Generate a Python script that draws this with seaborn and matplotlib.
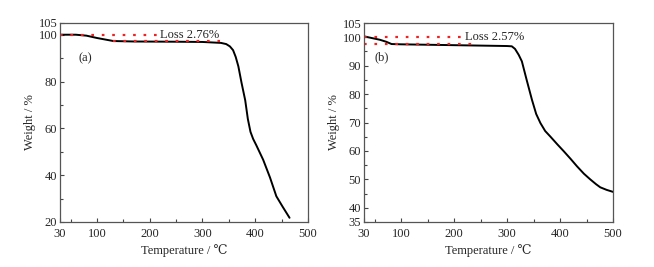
import numpy as np
import pandas as pd
import seaborn as sns
import matplotlib.pyplot as plt

# TGA curve (a)
temp_a = [30, 60, 80, 100, 131, 170, 250, 300, 335, 345, 352, 358, 363, 368, 374, 381, 386, 391, 396, 402, 415, 428, 440, 452, 465]
weight_a = [100, 100, 99.6, 98.6, 97.3, 97.1, 97.0, 96.9, 96.5, 96.0, 95.0, 93.4, 90.5, 86.5, 79.5, 72, 64, 58.5, 55.5, 52.8, 46.6, 39, 31, 26.5, 21.8]

# TGA curve (b)
temp_b = [30, 45, 60, 72, 82, 100, 200, 300, 309, 315, 322, 328, 337, 347, 355, 363, 372, 382, 395, 407, 420, 432, 445, 457, 468, 476, 488, 500]
weight_b = [100.3, 99.7, 99.1, 98.4, 97.6, 97.5, 97.2, 96.9, 96.8, 95.9, 93.8, 91.5, 85, 78, 73, 69.8, 67, 65, 62.3, 59.9, 57.2, 54.6, 52, 50, 48.3, 47.2, 46.3, 45.6]

loss_a = "Loss 2.76%"
loss_b = "Loss 2.57%"

sns.set_theme(style="ticks")
plt.rcParams['font.family'] = ['Liberation Serif', 'DejaVu Serif']
fs = 9

fig = plt.figure(figsize=(6.54, 2.67), dpi=100)
ax1 = fig.add_axes([60/654, 45/267, 248/654, 199/267])
ax2 = fig.add_axes([364/654, 45/267, 249/654, 199/267])

df_a = pd.DataFrame({"T": temp_a, "W": weight_a})
df_b = pd.DataFrame({"T": temp_b, "W": weight_b})
sns.lineplot(data=df_a, x="T", y="W", ax=ax1, color="black", lw=1.4)
sns.lineplot(data=df_b, x="T", y="W", ax=ax2, color="black", lw=1.4)

red = "#ee2222"
dots = dict(color=red, lw=1.6, ls=(0, (1.2, 3.5)))
ax1.plot([30, 219], [100, 100], **dots)
ax1.plot([131, 333], [97.2, 97.2], **dots)
ax1.text(220, 100, loss_a, va="center", ha="left", fontsize=fs)
ax1.text(65, 90, "(a)", fontsize=fs, va="center")

ax2.plot([30, 218], [100, 100], **dots)
ax2.plot([30, 237], [97.6, 97.6], **dots)
ax2.text(220, 100, loss_b, va="center", ha="left", fontsize=fs)
ax2.text(50, 93, "(b)", fontsize=fs, va="center")

ax1.set_xlim(30, 500)
ax1.set_ylim(20, 105)
ax1.set_yticks([20, 40, 60, 80, 100, 105])
ax1.set_yticks([30, 50, 70, 90], minor=True)
ax2.set_xlim(30, 500)
ax2.set_ylim(35, 105)
ax2.set_yticks([35, 40, 50, 60, 70, 80, 90, 100, 105])
ax2.set_yticks([45, 55, 65, 75, 85, 95], minor=True)

for ax in (ax1, ax2):
    ax.set_xticks([30, 100, 200, 300, 400, 500])
    ax.set_xticks([50, 150, 250, 350, 450], minor=True)
    ax.tick_params(which="both", direction="in", length=3, width=0.8, color="#444444", labelsize=fs)
    ax.tick_params(axis="x", pad=4)
    ax.tick_params(axis="y", pad=2)
    ax.tick_params(which="minor", length=2)
    for s in ax.spines.values():
        s.set_visible(True)
        s.set_color("#555555")
        s.set_linewidth(0.9)
    ax.set_xlabel("Temperature / ℃", fontsize=fs, labelpad=3)
    ax.set_ylabel("Weight / %", fontsize=fs, labelpad=2)

fig.savefig("out.png", dpi=100)
